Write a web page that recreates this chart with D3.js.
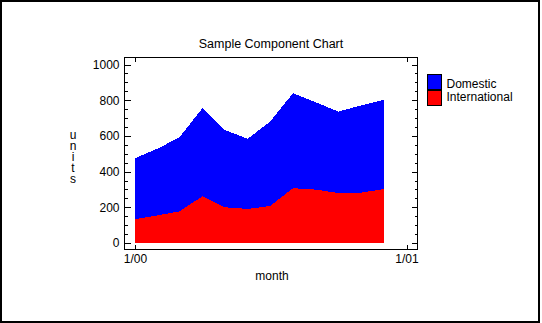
<!DOCTYPE html>
<html>
<head>
<meta charset="utf-8">
<script src="https://cdn.jsdelivr.net/npm/d3@7"></script>
<style>
  html, body { margin: 0; padding: 0; background: #fff; }
  svg { display: block; font-family: "Liberation Sans", Arial, sans-serif; }
  .axis text { font-size: 12px; fill: #000; font-family: "Liberation Sans", Arial, sans-serif; }
  .axis line { stroke: #000; }
  .vtitle { writing-mode: vertical-lr; text-orientation: upright; letter-spacing: -3px; }
</style>
</head>
<body>
<svg id="chart" width="542" height="323"></svg>
<script>
// Monthly figures for 2000, stacked: international on the bottom, domestic on top
const months = ["2000-01", "2000-02", "2000-03", "2000-04", "2000-05", "2000-06",
                "2000-07", "2000-08", "2000-09", "2000-10", "2000-11", "2000-12"];
const international = [134, 155, 177, 262, 200, 191, 207, 307, 299, 280, 282, 302];
const domestic      = [341, 375, 415, 494, 433, 393, 473, 532, 489, 456, 489, 499];

const seriesNames  = ["Domestic", "International"];
const seriesColors = ["#0000ff", "#ff0000"];
const yMajorTicks = [0, 200, 400, 600, 800, 1000];
const xTickDates  = ["2000-01", "2001-01"];
const xTickLabels = ["1/00", "1/01"];

const parseMonth = d3.timeParse("%Y-%m");
const rows = months.map((m, i) => ({
  date: parseMonth(m),
  international: international[i],
  domestic: domestic[i]
}));

const svg = d3.select("#chart");

// outer frame
svg.append("rect").attr("x", 1).attr("y", 0.5).attr("width", 538).attr("height", 321)
  .attr("fill", "none").attr("stroke", "#000").attr("stroke-width", 2)
  .attr("shape-rendering", "crispEdges");

// plot box
const box = { left: 124.5, right: 417.5, top: 57.5, bottom: 249.5 };

const x = d3.scaleTime()
  .domain([parseMonth("2000-01"), parseMonth("2001-01")])
  .range([135, 406.5]);
const y = d3.scaleLinear().domain([0, 1000]).range([243, 64.5]);

const stack = d3.stack().keys(["international", "domestic"]);
const layers = stack(rows);
const colorByKey = { domestic: seriesColors[0], international: seriesColors[1] };

const area = d3.area()
  .x(d => x(d.data.date))
  .y0(d => y(d[0]))
  .y1(d => y(d[1]));

svg.append("g").selectAll("path").data(layers).join("path")
  .attr("d", area)
  .attr("fill", d => colorByKey[d.key])
  .attr("shape-rendering", "crispEdges");

// frame around the plot
svg.append("rect")
  .attr("x", box.left).attr("y", box.top)
  .attr("width", box.right - box.left).attr("height", box.bottom - box.top)
  .attr("fill", "none").attr("stroke", "#000").attr("stroke-width", 1)
  .attr("shape-rendering", "crispEdges");

const minorValues = d3.range(0, 1001, 50).filter(v => !yMajorTicks.includes(v));

function cleanAxis(g) {
  g.select(".domain").remove();
  g.selectAll("line").attr("shape-rendering", "crispEdges");
}

// left axis: ticks point inward, labels outside
svg.append("g").attr("class", "axis").attr("transform", `translate(${box.left},0)`)
  .call(d3.axisLeft(y).tickValues(yMajorTicks).tickSizeInner(-6).tickSizeOuter(0).tickPadding(5)
    .tickFormat(d3.format("d")))
  .call(cleanAxis);
svg.append("g").attr("class", "axis").attr("transform", `translate(${box.left},0)`)
  .call(d3.axisLeft(y).tickValues(minorValues).tickSizeInner(-3).tickSizeOuter(0).tickFormat(""))
  .call(cleanAxis);

// right axis mirrors the left ticks
svg.append("g").attr("class", "axis").attr("transform", `translate(${box.right},0)`)
  .call(d3.axisRight(y).tickValues(yMajorTicks).tickSizeInner(-6).tickSizeOuter(0).tickFormat(""))
  .call(cleanAxis);
svg.append("g").attr("class", "axis").attr("transform", `translate(${box.right},0)`)
  .call(d3.axisRight(y).tickValues(minorValues).tickSizeInner(-3).tickSizeOuter(0).tickFormat(""))
  .call(cleanAxis);

// bottom and top time axes
const xTicks = xTickDates.map(parseMonth);
svg.append("g").attr("class", "axis").attr("transform", `translate(0,${box.bottom})`)
  .call(d3.axisBottom(x).tickValues(xTicks).tickSizeInner(-5).tickSizeOuter(0).tickPadding(5)
    .tickFormat((d, i) => xTickLabels[i]))
  .call(cleanAxis);
svg.append("g").attr("class", "axis").attr("transform", `translate(0,${box.top})`)
  .call(d3.axisTop(x).tickValues(xTicks).tickSizeInner(-4).tickSizeOuter(0).tickFormat(""))
  .call(cleanAxis);

// title and axis titles
svg.append("text").attr("x", 271).attr("y", 48).attr("text-anchor", "middle")
  .attr("font-size", 12.5).text("Sample Component Chart");
svg.append("text").attr("x", 272).attr("y", 280).attr("text-anchor", "middle")
  .attr("font-size", 12).text("month");

// vertical, upright "units"
svg.append("text").attr("class", "vtitle")
  .attr("x", 73).attr("y", 128)
  .attr("font-size", 12)
  .text("units");

// legend
const legend = svg.append("g").attr("transform", "translate(427.5,74.5)");
seriesNames.forEach((name, i) => {
  legend.append("rect").attr("x", 0).attr("y", i * 15.5).attr("width", 14).attr("height", 15)
    .attr("fill", seriesColors[i]).attr("stroke", "#000").attr("shape-rendering", "crispEdges");
  legend.append("text").attr("x", 19).attr("y", 13 + i * 13).attr("font-size", 12).text(name);
});
</script>
</body>
</html>
